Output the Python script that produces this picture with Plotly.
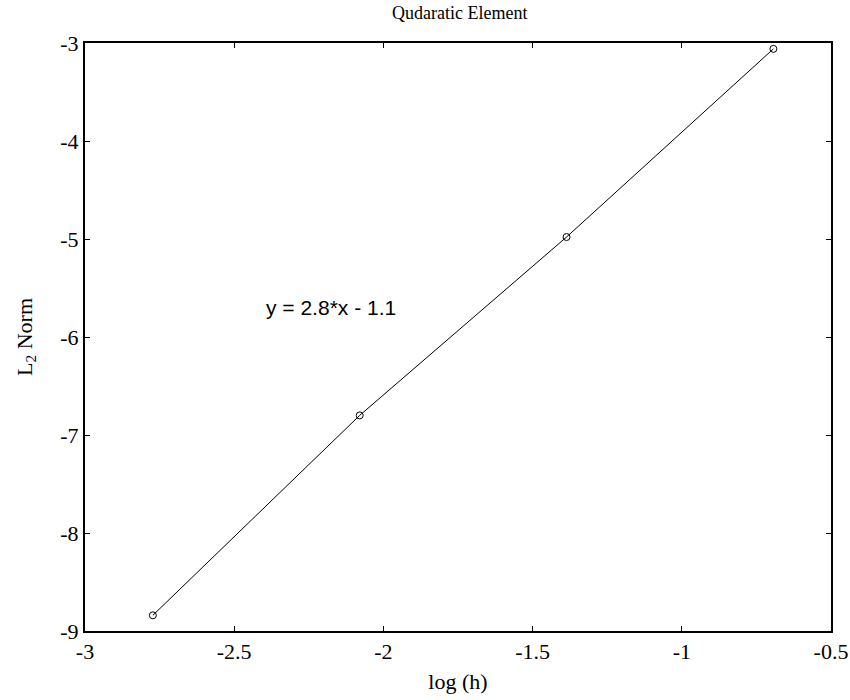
import plotly.graph_objects as go

# Convergence data: log of mesh size vs log of L2 error
log_h = [-2.7726, -2.0794, -1.3863, -0.6931]
l2_norm = [-8.84, -6.80, -4.98, -3.06]

x_ticks = [-3, -2.5, -2, -1.5, -1, -0.5]
y_ticks = [-9, -8, -7, -6, -5, -4, -3]

fit_label = "y = 2.8*x - 1.1"

serif = "Liberation Serif, Times New Roman, serif"

fig = go.Figure()
fig.add_trace(go.Scatter(
    x=log_h, y=l2_norm, mode="lines+markers",
    line=dict(color="black", width=1),
    marker=dict(symbol="circle-open", size=7, color="black", line=dict(width=1)),
    showlegend=False,
))

fig.add_annotation(
    x=-2.4, y=-5.7, text=fit_label, showarrow=False, xanchor="left", yanchor="middle",
    font=dict(family="Liberation Sans, Arial, sans-serif", size=21, color="black"),
)

axis_common = dict(
    showline=True, linecolor="black", linewidth=2, mirror="ticks",
    ticks="inside", ticklen=5, tickwidth=1, tickcolor="black",
    showgrid=False, zeroline=False, automargin=False,
    tickfont=dict(family=serif, size=22, color="black"),
)

fig.update_layout(
    width=850, height=700,
    paper_bgcolor="white", plot_bgcolor="white",
    margin=dict(l=85, r=19, t=43, b=69),
    title=dict(text="Qudaratic Element", x=0.541, xanchor="center",
               y=1 - 13 / 700, yanchor="middle", yref="container",
               font=dict(family=serif, size=18, color="black")),
    xaxis=dict(range=[-3, -0.5], tickvals=x_ticks, ticktext=[str(v) for v in x_ticks],
               title=dict(text="log (h)", font=dict(family=serif, size=22, color="black"), standoff=10),
               **axis_common),
    yaxis=dict(range=[-9, -3], tickvals=y_ticks, ticktext=[str(v) for v in y_ticks],
               title=dict(text="L<sub>2</sub> Norm", font=dict(family=serif, size=22, color="black"), standoff=22),
               **axis_common),
)

fig.write_html("out.html")
